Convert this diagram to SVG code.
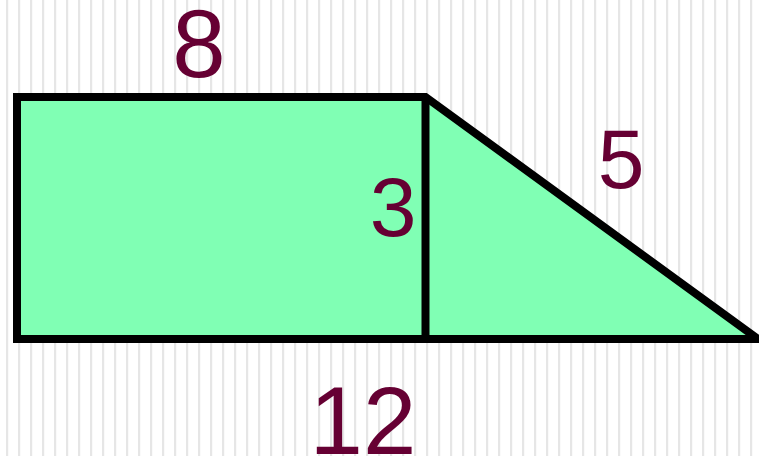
<svg xmlns="http://www.w3.org/2000/svg" width="759" height="456" viewBox="0 0 759 456">
  <defs>
    <pattern id="stripes" x="0" y="0" width="12" height="456" patternUnits="userSpaceOnUse">
      <rect x="6" y="0" width="2.2" height="456" fill="#e6e6e6"/>
    </pattern>
  </defs>
  <style>
    .shape { fill: #80ffb4; stroke: #000; stroke-width: 8; stroke-linejoin: miter; }
    .edge { fill: none; stroke: #000; stroke-width: 8; }
    .lbl { font-family: "Liberation Sans", Arial, sans-serif; fill: #660033; text-anchor: middle; }
  </style>
  <rect x="0" y="0" width="759" height="456" fill="#ffffff"/>
  <rect x="0" y="0" width="759" height="456" fill="url(#stripes)"/>
  <g id="figure">
    <polygon class="shape" points="17,97 425.5,97 758,339 17,339"/>
    <line class="edge" x1="425.5" y1="97" x2="425.5" y2="339"/>
  </g>
  <g id="labels">
    <text class="lbl" x="199" y="77" font-size="96">8</text>
    <text class="lbl" x="393" y="236" font-size="84">3</text>
    <text class="lbl" x="621" y="188" font-size="84">5</text>
    <text class="lbl" x="363" y="454" font-size="96">12</text>
  </g>
</svg>
